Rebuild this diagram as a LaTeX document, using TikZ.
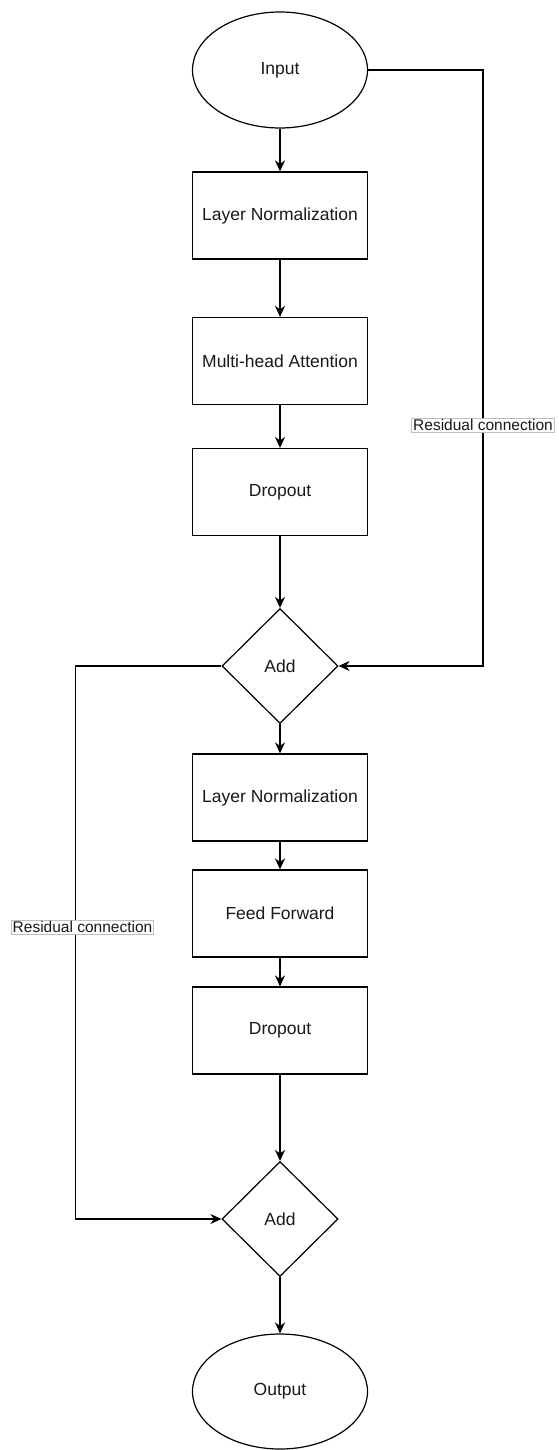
\documentclass[tikz,border=0pt]{standalone}
\usepackage{fontspec}
\setmainfont{Liberation Sans}
\usetikzlibrary{shapes.geometric,arrows.meta}
\begin{document}
\begin{tikzpicture}[x=1pt,y=-1pt,
 base/.style={draw=black,line width=1.2pt,fill=white,inner sep=0pt,text=black!90,font=\fontsize{17.5}{20}\selectfont},
 boxnode/.style={base,rectangle,minimum width=175pt,minimum height=87pt},
 ellnode/.style={base,ellipse,minimum width=175pt,minimum height=116pt},
 dianode/.style={base,diamond,minimum width=116pt,minimum height=115pt},
 conn/.style={line width=1.2pt,-{Stealth[length=11pt,width=10pt,inset=3.5pt]}},
 lbl/.style={draw=black!25,line width=0.6pt,fill=white,inner sep=1.5pt,text=black!90,font=\fontsize{15.5}{17}\selectfont}]
\useasboundingbox (0,0) rectangle (558,1450);
\node[ellnode] (in) at (280,70) {Input};
\node[boxnode] (ln1) at (280,215.5) {Layer Normalization};
\node[boxnode] (mha) at (280,361) {Multi-head Attention};
\node[boxnode] (do1) at (280,492) {Dropout};
\node[dianode] (add1) at (280,666) {Add};
\node[boxnode] (ln2) at (280,797.5) {Layer Normalization};
\node[boxnode] (ff) at (280,913.5) {Feed Forward};
\node[boxnode] (do2) at (280,1030.5) {Dropout};
\node[dianode] (add2) at (280,1219) {Add};
\node[ellnode,minimum height=115pt] (out) at (280,1391.5) {Output};

\draw[conn] (in) -- (ln1);
\draw[conn] (ln1) -- (mha);
\draw[conn] (mha) -- (do1);
\draw[conn] (do1) -- (add1);
\draw[conn] (add1) -- (ln2);
\draw[conn] (ln2) -- (ff);
\draw[conn] (ff) -- (do2);
\draw[conn] (do2) -- (add2);
\draw[conn] (add2) -- (out);

\coordinate (r1) at (483,70);
\coordinate (r2) at (483,666);
\draw[conn] (in.east) -- (r1) -- (r2) -- (add1.east);
\node[lbl] (lab1) at (483,425) {Residual connection};

\coordinate (l1) at (75.5,666);
\coordinate (l2) at (75.5,1219);
\draw[conn] (add1.west) -- (l1) -- (l2) -- (add2.west);
\node[lbl] (lab2) at (82.5,927) {Residual connection};
\end{tikzpicture}
\end{document}
